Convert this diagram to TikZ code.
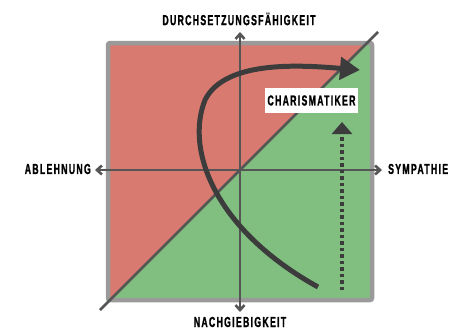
\documentclass[tikz,border=0pt]{standalone}
\usepackage{fontspec}
\usepackage{xcolor}
\usetikzlibrary{arrows.meta, positioning}
\newfontfamily\lblfont{Liberation Sans}[FakeStretch=0.6, LetterSpace=9, BoldFeatures={FakeBold=1.2}]
\definecolor{quadred}{HTML}{D97A70}
\definecolor{quadgreen}{HTML}{80BF80}
\definecolor{framegray}{HTML}{9A9A9A}
\definecolor{axisgray}{HTML}{555555}
\definecolor{curvegray}{HTML}{3C3C3C}

\begin{document}
\begin{tikzpicture}[
  x=1pt, y=-1pt,
  axislabel/.style={font=\lblfont\bfseries\fontsize{14.5}{15}\selectfont, text=black, inner sep=0pt},
  axisline/.style={draw=axisgray, line width=2.6pt, {Straight Barb[length=5pt,width=9pt]}-{Straight Barb[length=5pt,width=9pt]}},
  typebox/.style={fill=white, minimum width=93pt, minimum height=25pt, inner sep=0pt, font=\lblfont\bfseries\fontsize{14.5}{15}\selectfont}
]
\useasboundingbox (0,0) rectangle (465,330);

% quadrant fills
\fill[quadgreen] (108,43) rectangle (372,300);
\begin{scope}
  \clip (108,43) rectangle (372,300);
  \fill[quadred] (100,310) -- (378,32) -- (0,32) -- (0,310) -- cycle;
\end{scope}
\draw[framegray, line width=4.5pt, rounded corners=2pt] (108,43) rectangle (372,300);

% axis end points
\coordinate (ntop) at (240,32);
\coordinate (nbot) at (240,312);
\coordinate (nleft) at (95,170);
\coordinate (nright) at (382,170);
\coordinate (dlow) at (100,310);
\coordinate (dhigh) at (378,32);

% axes and diagonal
\draw[axisline] (nbot) -- (ntop);
\draw[axisline] (nleft) -- (nright);
\draw[axisgray, line width=2.6pt] (dlow) -- (dhigh);

% labels
\node[axislabel] (lbltop) at (239,19) {DURCHSETZUNGSFÄHIGKEIT};
\node[axislabel] (lblbot) at (240,322) {NACHGIEBIGKEIT};
\node[axislabel, anchor=east] (lblleft) at (91,169) {ABLEHNUNG};
\node[axislabel, anchor=west] (lblright) at (388,169) {SYMPATHIE};

% type box and arrows
\node[typebox] (charis) at (311.5,100.5) {CHARISMATIKER};
\coordinate (dotstart) at (342,290);
\coordinate (dotend) at (342,122);
\draw[curvegray, line width=4pt, dash pattern=on 3.5pt off 3pt, -{Triangle[length=12pt,width=20pt]}] (dotstart) -- (dotend);
\coordinate (curvestart) at (318,287);
\coordinate (curveend) at (360,70);
\draw[curvegray, line width=5pt, -{Triangle[length=20pt,width=22pt]}]
  (curvestart) .. controls (215,230) and (185,150) .. (205,100)
  .. controls (225,60) and (300,65) .. (curveend);

\end{tikzpicture}
\end{document}
